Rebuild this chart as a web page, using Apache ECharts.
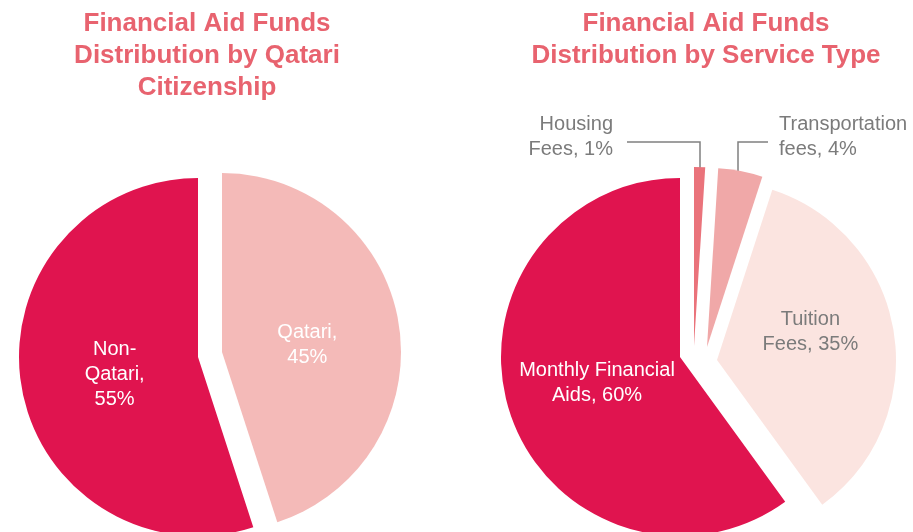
<!DOCTYPE html>
<html>
<head>
<meta charset="utf-8">
<script src="https://cdn.jsdelivr.net/npm/echarts@6/dist/echarts.min.js"></script>
<style>
  html, body { margin: 0; padding: 0; background: #fff; }
  #chart { width: 913px; height: 532px; }
</style>
</head>
<body>
<div id="chart"></div>
<script>
// data, in slice order clockwise from 12 o'clock
const titles = [
    'Financial Aid Funds\nDistribution by Qatari\nCitizenship',
    'Financial Aid Funds\nDistribution by Service Type'
];
const citizenNames = ['Qatari', 'Non-Qatari'];
const citizenLabels = ['Qatari,\n', 'Non-\nQatari,\n'];
const citizenValues = [45, 55];

const serviceNames = ['Housing Fees', 'Transportation fees', 'Tuition Fees', 'Monthly Financial Aids'];
const serviceLabels = ['Housing\nFees, ', 'Transportation\nfees, ', 'Tuition\nFees, ', 'Monthly Financial\nAids, '];
const serviceValues = [1, 4, 35, 60];

// layout and style
const FONT = '"Liberation Sans", Arial, Helvetica, sans-serif';
const RADIUS = 179;
const citizenCenters = [[222, 352], [198, 357]];
const citizenColors = ['#F4BAB8', '#E0144F'];
const citizenText = ['#ffffff', '#ffffff'];
const citizenNudge = [[-6, 7], [8, 3]];

const serviceCenters = [[694, 346], [707, 347], [717, 360], [680, 357]];
const serviceColors = ['#EA737B', '#F0A8A8', '#FBE4E0', '#E0144F'];
const serviceText = ['#7b7b7b', '#7b7b7b', '#7b7b7b', '#ffffff'];
const serviceNudge = [[0, 0], [0, 0], [2, -14], [5, -3]];
const serviceOutside = [
    { x: 613, y: 137, align: 'right', line: [[700, 198], [700, 142], [627, 142]] },
    { x: 779, y: 137, align: 'left', line: [[738, 198], [738, 142], [768, 142]] },
    null,
    null
];

// one pie series per slice so every exploded slice can sit at its own offset
function sliceSeries(names, labels, values, centers, colors, textColors, nudges, outside) {
    return values.map((_, i) => {
        const out = outside ? outside[i] : null;
        return {
            type: 'pie',
            center: centers[i],
            radius: RADIUS,
            startAngle: 90,
            clockwise: true,
            silent: true,
            avoidLabelOverlap: false,
            itemStyle: { borderWidth: 0 },
            label: {
                position: out ? 'outside' : 'inside',
                formatter: p => labels[p.dataIndex] + p.value + '%',
                color: textColors[i],
                fontFamily: FONT,
                fontSize: 20,
                lineHeight: 25,
                fontWeight: 'normal',
                textBorderWidth: 0
            },
            labelLine: { lineStyle: { color: '#808080', width: 1.5 } },
            labelLayout: p => {
                if (p.dataIndex !== i) {
                    return {};
                }
                if (out) {
                    return { x: out.x, y: out.y, align: out.align, verticalAlign: 'middle', labelLinePoints: out.line };
                }
                return { dx: nudges[i][0], dy: nudges[i][1] };
            },
            data: values.map((v, j) => ({
                name: names[j],
                value: v,
                itemStyle: { color: j === i ? colors[j] : 'rgba(0,0,0,0)' },
                label: { show: j === i },
                labelLine: { show: j === i && !!out }
            }))
        };
    });
}

const chart = echarts.init(document.getElementById('chart'), null, { renderer: 'canvas' });

const titleStyle = {
    fontFamily: FONT,
    fontWeight: 'bold',
    fontSize: 26,
    lineHeight: 32,
    color: '#E8636F'
};

chart.setOption({
    animation: false,
    backgroundColor: '#ffffff',
    title: [
        { text: titles[0], left: 207, top: 8, padding: 0, textAlign: 'center', textStyle: titleStyle },
        { text: titles[1], left: 706, top: 8, padding: 0, textAlign: 'center', textStyle: titleStyle }
    ],
    series: [
        ...sliceSeries(citizenNames, citizenLabels, citizenValues, citizenCenters, citizenColors, citizenText, citizenNudge, null),
        ...sliceSeries(serviceNames, serviceLabels, serviceValues, serviceCenters, serviceColors, serviceText, serviceNudge, serviceOutside)
    ]
});
</script>
</body>
</html>
